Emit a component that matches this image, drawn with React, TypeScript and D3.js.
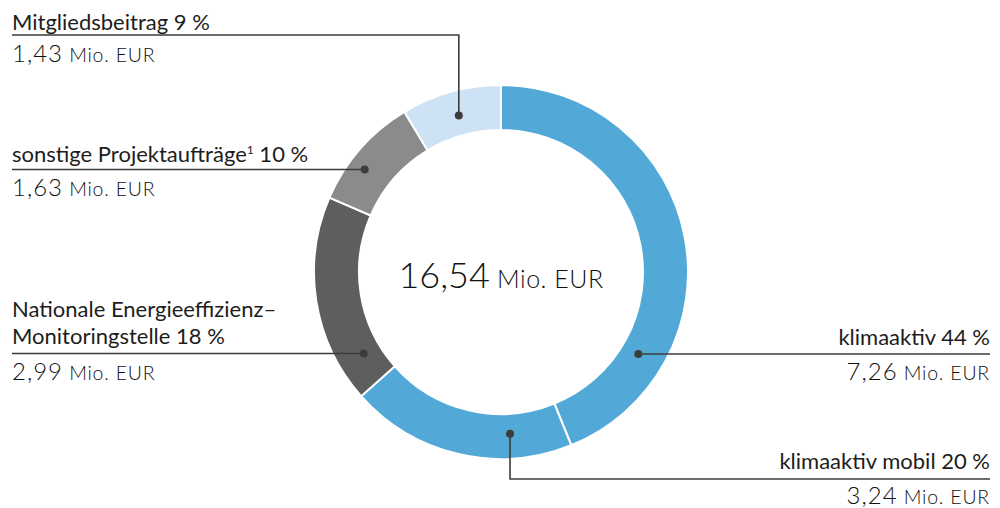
import React from "react";
import * as d3 from "d3";

const categories = [
  "klimaaktiv",
  "klimaaktiv mobil",
  "Nationale Energieeffizienz–Monitoringstelle",
  "sonstige Projektaufträge",
  "Mitgliedsbeitrag",
];
const values = [7.26, 3.24, 2.99, 1.63, 1.43];
const percents = [44, 20, 18, 10, 9];
const valueLabels = ["7,26", "3,24", "2,99", "1,63", "1,43"];
const totalLabel = "16,54";
const unitLabel = "Mio. EUR";
const colors = ["#52a9d8", "#52a9d8", "#5e5e5c", "#8b8b8b", "#cde2f4"];

// label layout (positions only)
const layout = [
  { anchor: "end", x: 990, titleLines: ["klimaaktiv 44 %"], titleY: 345, lineY: 354, valueY: 380, dotAngle: 120.9, dotR: 160 },
  { anchor: "end", x: 990, titleLines: ["klimaaktiv mobil 20 %"], titleY: 469, lineY: 479, valueY: 504, dotAngle: 176.8, dotR: 162, vertical: true },
  { anchor: "start", x: 12, titleLines: ["Nationale Energieeffizienz–", "Monitoringstelle 18 %"], titleY: 317, lineY: 353.5, valueY: 379.5, dotAngle: 239.1, dotR: 160 },
  { anchor: "start", x: 12, titleLines: ["sonstige Projektaufträge", "¹ 10 %"], titleY: 162, lineY: 169.5, valueY: 196, dotAngle: 306.7, dotR: 170 },
  { anchor: "start", x: 12, titleLines: ["Mitgliedsbeitrag 9 %"], titleY: 29.5, lineY: 35, valueY: 61.5, dotAngle: 344.9, dotR: 162, vertical: true },
];

const W = 1000;
const H = 508;
const cx = 501;
const cy = 272;
const rOuter = 187;
const rInner = 142;
const FONT = "Lato, 'Open Sans', sans-serif";
const TEXT = "#1d1d1b";
const VALUE = "#111111";
const LINE = "#3c3c3b";
const TITLE_SIZE = 22;

export default function App() {
  const pie = d3
    .pie<number>()
    .sort(null)
    .startAngle(0)
    .endAngle(2 * Math.PI);
  const arcs = pie(values);
  const arc = d3.arc<d3.PieArcDatum<number>>().innerRadius(rInner).outerRadius(rOuter);

  const dotPos = (i: number) => {
    const a = (layout[i].dotAngle * Math.PI) / 180;
    return [cx + layout[i].dotR * Math.sin(a), cy - layout[i].dotR * Math.cos(a)];
  };

  return (
    <svg
      width={W}
      height={H}
      style={{ position: "absolute", left: 0, top: 0, background: "#fff" }}
      fontFamily={FONT}
    >
      <g transform={`translate(${cx},${cy})`}>
        {arcs.map((d, i) => (
          <path key={categories[i]} d={arc(d) || ""} fill={colors[i]} stroke="#fff" strokeWidth={2} />
        ))}
      </g>
      <text x={cx} y={288} textAnchor="middle" fill={VALUE}>
        <tspan fontSize={36} fontWeight={300}>{totalLabel}</tspan>
        <tspan fontSize={25} fontWeight={300} letterSpacing={0.5}>{" " + unitLabel}</tspan>
      </text>
      {layout.map((l, i) => {
        const [dx, dy] = dotPos(i);
        const dotX = dx;
        const dotY = l.vertical ? dy : l.lineY;
        const path = l.vertical
          ? `M${dotX},${dotY}V${l.lineY}H${l.x}`
          : `M${dotX},${l.lineY}H${l.x}`;
        const isSup = l.titleLines.length === 2 && l.titleLines[1].startsWith("¹");
        return (
          <g key={categories[i]}>
            <path d={path} fill="none" stroke={LINE} strokeWidth={1.6} />
            <circle cx={dotX} cy={dotY} r={4} fill={LINE} />
            {isSup ? (
              <text x={l.x} y={l.titleY} textAnchor={l.anchor} fontSize={TITLE_SIZE} fill={TEXT}>
                {l.titleLines[0]}
                <tspan fontSize={12} dy={-8}>1</tspan>
                <tspan dy={8}>{" " + percents[i] + " %"}</tspan>
              </text>
            ) : (
              l.titleLines.map((t, j) => (
                <text key={j} x={l.x} y={l.titleY + j * 26.5} textAnchor={l.anchor} fontSize={TITLE_SIZE} fill={TEXT}>
                  {t}
                </text>
              ))
            )}
            <text x={l.x} y={l.valueY} textAnchor={l.anchor} fill={VALUE} fontWeight={300}>
              <tspan fontSize={24} letterSpacing={1}>{valueLabels[i]}</tspan>
              <tspan fontSize={19.5} letterSpacing={0.8}>{" " + unitLabel}</tspan>
            </text>
          </g>
        );
      })}
    </svg>
  );
}
